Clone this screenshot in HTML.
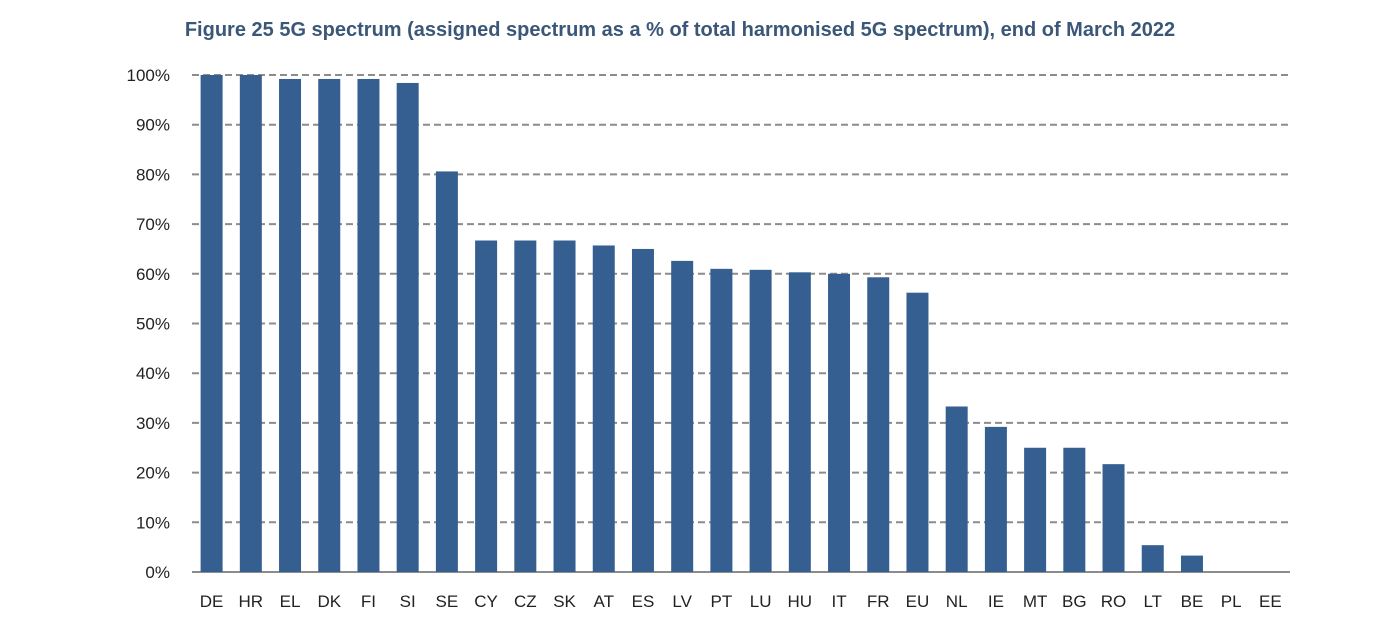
<!DOCTYPE html>
<html><head><meta charset="utf-8"><style>
body{margin:0;background:#fff;width:1400px;height:617px;overflow:hidden}
svg{font-family:"Liberation Sans",sans-serif}
</style></head><body>
<svg id="chart" width="1400" height="617">
<text x="680" y="36" text-anchor="middle" font-size="20" font-weight="bold" fill="#3b5778">Figure 25 5G spectrum (assigned spectrum as a % of total harmonised 5G spectrum), end of March 2022</text>
<g id="grid"></g><g id="bars"></g><g id="labels"></g>
</svg>
<script>
const categories=["DE","HR","EL","DK","FI","SI","SE","CY","CZ","SK","AT","ES","LV","PT","LU","HU","IT","FR","EU","NL","IE","MT","BG","RO","LT","BE","PL","EE"];
const values=[100,100,99.2,99.2,99.2,98.4,80.6,66.7,66.7,66.7,65.7,65,62.6,61,60.8,60.3,60,59.3,56.2,33.3,29.2,25,25,21.7,5.4,3.3,0,0];
const yTicks=[0,10,20,30,40,50,60,70,80,90,100];
const NS="http://www.w3.org/2000/svg";
const x0=192,x1=1290,y0=572,y100=75;
const y=v=>y0-(y0-y100)*v/100;
const step=(x1-x0)/categories.length;
const xc=i=>x0+step*(i+0.5);
function mk(t,a,p){const e=document.createElementNS(NS,t);for(const k in a)e.setAttribute(k,a[k]);p.appendChild(e);return e;}
const g=document.getElementById('grid'),b=document.getElementById('bars'),l=document.getElementById('labels');
yTicks.forEach(v=>{
  if(v>0){const ln=mk('line',{x1:x0,x2:x1,y1:y(v),y2:y(v),stroke:'#8c8c8c','stroke-width':2,'stroke-dasharray':'7,4'},g);
  
  }
  const t=mk('text',{x:170,y:y(v)+6,'text-anchor':'end','font-size':17,fill:'#222'},l);
  t.textContent=v+'%';
  
  
});
const ax=mk('line',{x1:x0,x2:x1,y1:y0,y2:y0,stroke:'#8c8c8c','stroke-width':2},g);


const bw=22;
categories.forEach((c,i)=>{
  const h=y0-y(values[i]);
  const r=mk('rect',{x:xc(i)-bw/2,y:y(values[i]),width:bw,height:Math.max(h,0),fill:'#365f91'},b);
  
  
  const t=mk('text',{x:xc(i),y:607,'text-anchor':'middle','font-size':17,fill:'#222'},l);
  t.textContent=c;
  
  
});
</script>
</body></html>
